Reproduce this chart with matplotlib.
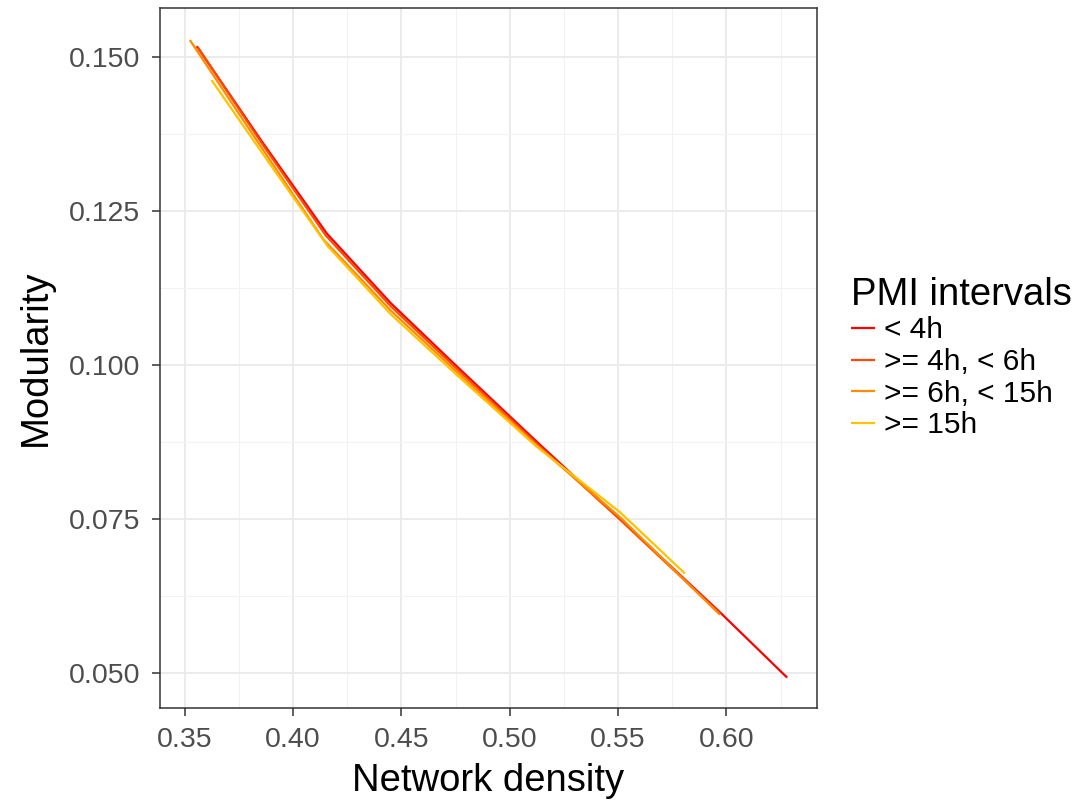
import matplotlib
matplotlib.use("Agg")
import matplotlib.pyplot as plt
from matplotlib.ticker import MultipleLocator

plt.rcParams['font.family'] = ['Liberation Sans', 'DejaVu Sans']

# values
labels = ["< 4h", ">= 4h, < 6h", ">= 6h, < 15h", ">= 15h"]
colors = ["#FF0000", "#FF4A00", "#FF8C00", "#FFC200"]

x_lt4 = [0.3555, 0.3850, 0.4155, 0.4450, 0.4747, 0.5124, 0.5508, 0.5970, 0.6280]
y_lt4 = [0.1517, 0.1365, 0.1213, 0.1100, 0.1000, 0.0875, 0.0750, 0.0598, 0.0492]

x_4to6 = [0.3560, 0.3850, 0.4150, 0.4450, 0.4750, 0.5120, 0.5510, 0.5970]
y_4to6 = [0.1515, 0.1362, 0.1210, 0.1095, 0.0995, 0.0873, 0.0748, 0.0596]

x_6to15 = [0.3523, 0.3830, 0.4140, 0.4450, 0.4750, 0.5120, 0.5510, 0.5970]
y_6to15 = [0.1527, 0.1365, 0.1203, 0.1088, 0.0990, 0.0870, 0.0752, 0.0594]

x_ge15 = [0.3623, 0.3890, 0.4160, 0.4450, 0.4750, 0.5120, 0.5510, 0.5808]
y_ge15 = [0.1462, 0.1327, 0.1192, 0.1082, 0.0985, 0.0868, 0.0760, 0.0661]

series_x = [x_lt4, x_4to6, x_6to15, x_ge15]
series_y = [y_lt4, y_4to6, y_6to15, y_ge15]


def main():
    fig = plt.figure(figsize=(10.8, 8.08), dpi=100)
    ax = fig.add_axes([0.148, 0.1238, 0.6085, 0.8663])

    for xs, ys, lab, col in zip(series_x, series_y, labels, colors):
        ax.plot(xs, ys, color=col, lw=1.6, label=lab, solid_capstyle="butt")

    ax.set_xlim(0.33846, 0.6418)
    ax.set_ylim(0.04427, 0.1579)
    ax.xaxis.set_major_locator(MultipleLocator(0.05))
    ax.xaxis.set_minor_locator(MultipleLocator(0.025))
    ax.yaxis.set_major_locator(MultipleLocator(0.025))
    ax.yaxis.set_minor_locator(MultipleLocator(0.0125))
    ax.xaxis.set_major_formatter(plt.FormatStrFormatter("%.2f"))
    ax.yaxis.set_major_formatter(plt.FormatStrFormatter("%.3f"))

    ax.grid(which="major", color="#EBEBEB", lw=1.4)
    ax.grid(which="minor", color="#F2F2F2", lw=0.8)
    ax.set_axisbelow(True)
    for sp in ax.spines.values():
        sp.set_color("#333333")
        sp.set_linewidth(1.1)
    ax.tick_params(which="major", length=6, width=1.1, color="#333333",
                   labelsize=20.5, labelcolor="#4D4D4D", pad=8)
    ax.tick_params(which="minor", length=0)

    ax.set_xlabel("Network density", fontsize=27.5, labelpad=7)
    ax.set_ylabel("Modularity", fontsize=27.5, labelpad=11)

    leg = ax.legend(loc="center left", bbox_to_anchor=(1.040, 0.5), frameon=False,
                    title="PMI intervals", fontsize=21.5, title_fontsize=27.5,
                    handlelength=0.8, handletextpad=0.3, labelspacing=0.12,
                    borderaxespad=0, borderpad=0.25)
    leg._legend_box.align = "left"

    fig.savefig("out.png", dpi=100)
    plt.close(fig)


main()
